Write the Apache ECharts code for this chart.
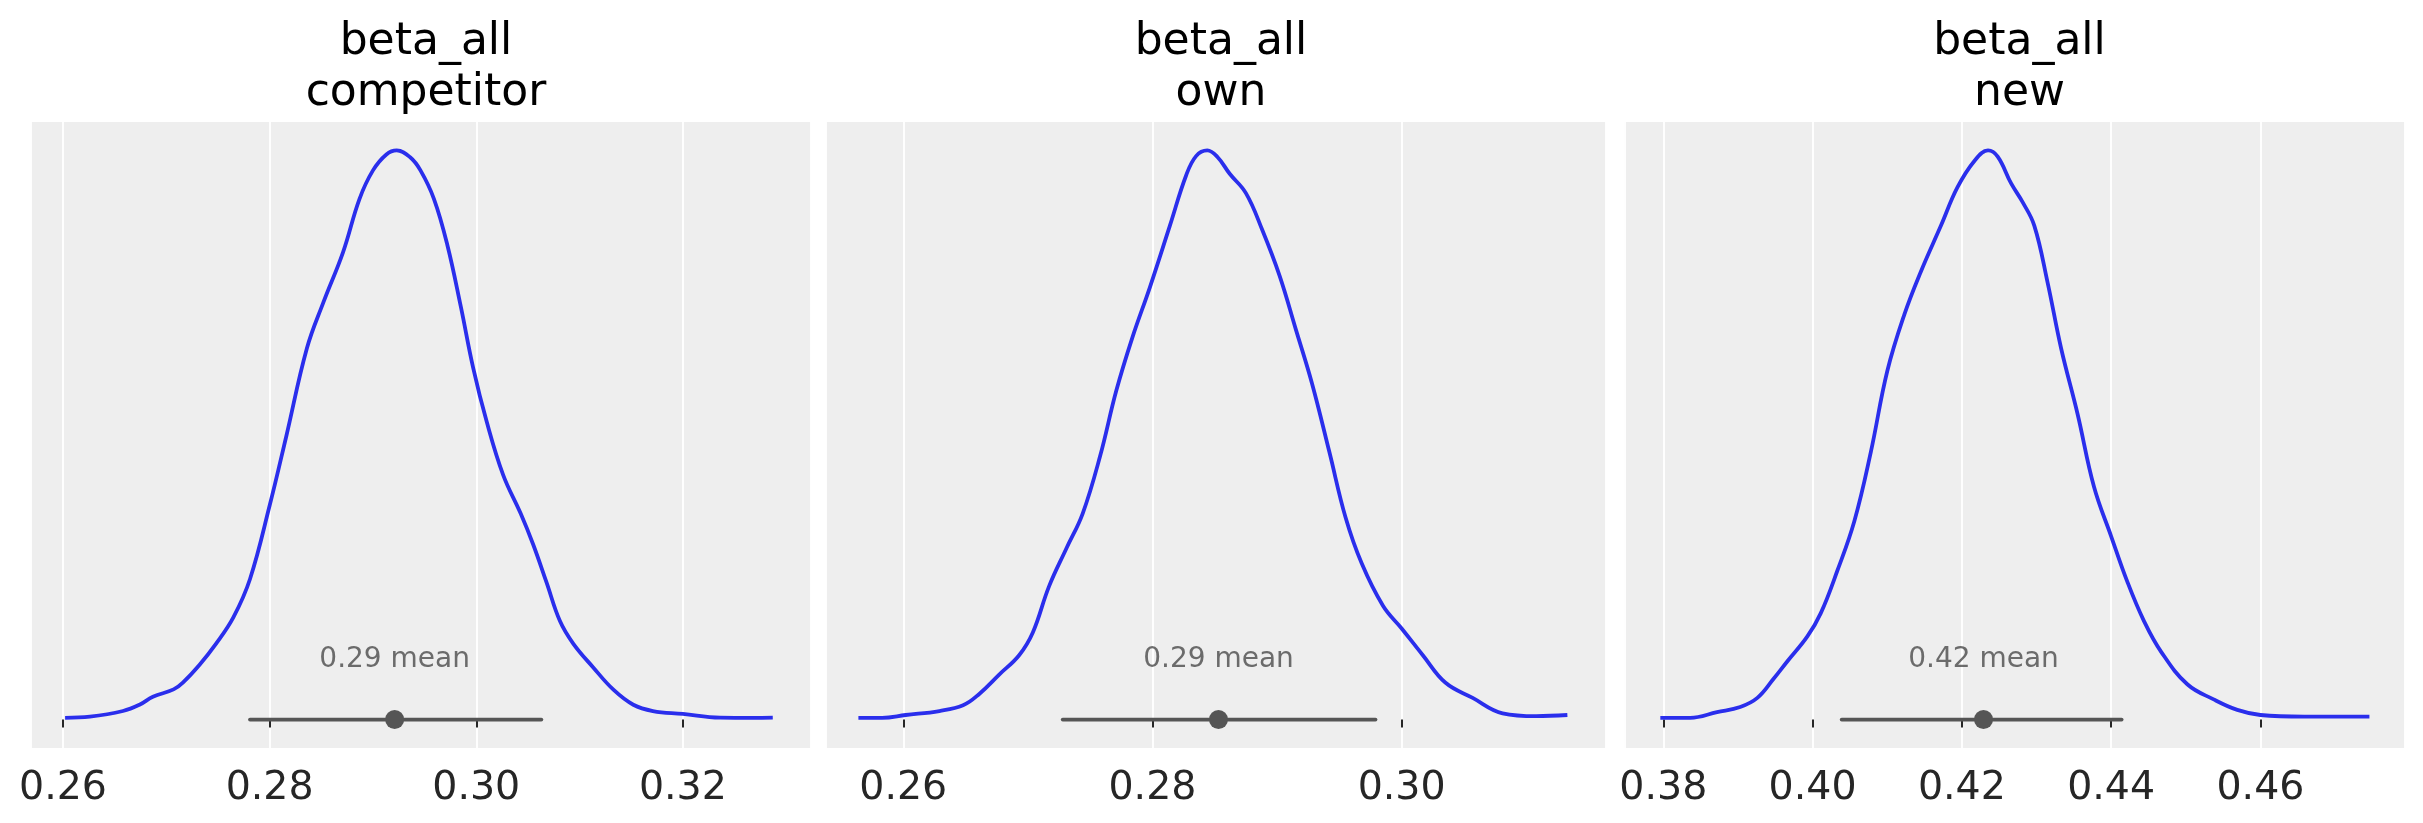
<!DOCTYPE html>
<html>
<head>
<meta charset="utf-8">
<script src="https://cdn.jsdelivr.net/npm/echarts@6/dist/echarts.min.js"></script>
<style>
  html, body { margin: 0; padding: 0; background: #fff; }
  #chart { width: 2423px; height: 823px; }
</style>
</head>
<body>
<div id="chart"></div>
<script>
// posterior densities (peak scaled to 1)
var competitorX = [0.2602, 0.2626, 0.2658, 0.2674, 0.2687, 0.2707, 0.2716, 0.2732, 0.2748, 0.2765, 0.2781, 0.2800, 0.2816, 0.2836, 0.2852, 0.2871, 0.2887, 0.2900, 0.2913, 0.2923, 0.2936, 0.2946, 0.2959, 0.2972, 0.2985, 0.2997, 0.3010, 0.3026, 0.3043, 0.3055, 0.3068, 0.3081, 0.3094, 0.3113, 0.3133, 0.3152, 0.3171, 0.3200, 0.3236, 0.3268, 0.3287];
var competitorY = [0.003, 0.005, 0.015, 0.026, 0.040, 0.053, 0.065, 0.096, 0.133, 0.180, 0.247, 0.376, 0.497, 0.652, 0.733, 0.821, 0.915, 0.965, 0.993, 1.000, 0.988, 0.965, 0.915, 0.834, 0.726, 0.618, 0.524, 0.430, 0.362, 0.308, 0.241, 0.173, 0.133, 0.092, 0.052, 0.026, 0.015, 0.010, 0.0034, 0.003, 0.0034];

var ownX = [0.2564, 0.2583, 0.2602, 0.2629, 0.2648, 0.2661, 0.2677, 0.2693, 0.2704, 0.2717, 0.2731, 0.2744, 0.2758, 0.2771, 0.2784, 0.2798, 0.2814, 0.2827, 0.2835, 0.2844, 0.2852, 0.2862, 0.2875, 0.2888, 0.2902, 0.2915, 0.2928, 0.2942, 0.2955, 0.2968, 0.2985, 0.3000, 0.3017, 0.3035, 0.3057, 0.3081, 0.3108, 0.3133];
var ownY = [0.003, 0.003, 0.008, 0.015, 0.025, 0.045, 0.079, 0.113, 0.153, 0.234, 0.301, 0.362, 0.463, 0.578, 0.672, 0.760, 0.868, 0.956, 0.990, 1.000, 0.989, 0.959, 0.925, 0.861, 0.780, 0.686, 0.591, 0.470, 0.355, 0.274, 0.200, 0.160, 0.113, 0.065, 0.038, 0.011, 0.006, 0.008];

var newX = [0.3796, 0.3836, 0.3872, 0.3903, 0.3926, 0.3948, 0.3966, 0.3993, 0.4011, 0.4033, 0.4056, 0.4078, 0.4100, 0.4123, 0.4145, 0.4172, 0.4194, 0.4217, 0.4235, 0.4248, 0.4266, 0.4281, 0.4297, 0.4315, 0.4333, 0.4355, 0.4377, 0.4400, 0.4422, 0.4444, 0.4467, 0.4502, 0.4538, 0.4569, 0.4600, 0.4659, 0.4746];
var newY = [0.003, 0.003, 0.013, 0.022, 0.038, 0.072, 0.102, 0.146, 0.187, 0.261, 0.349, 0.470, 0.612, 0.712, 0.787, 0.868, 0.935, 0.982, 1.000, 0.989, 0.942, 0.910, 0.868, 0.767, 0.652, 0.537, 0.409, 0.322, 0.241, 0.173, 0.119, 0.062, 0.035, 0.017, 0.008, 0.005, 0.005];

var titles = ['beta_all\ncompetitor', 'beta_all\nown', 'beta_all\nnew'];
var means = [0.2921, 0.2853, 0.4229];
var meanLabels = ['0.29 mean', '0.29 mean', '0.42 mean'];
var hdiLow = [0.2781, 0.2728, 0.4039];
var hdiHigh = [0.3063, 0.2979, 0.4414];
var xMin = [0.2569, 0.2538, 0.3748];
var xMax = [0.3324, 0.3164, 0.4793];

var kdeX = [competitorX, ownX, newX];
var kdeY = [competitorY, ownY, newY];

var chart = echarts.init(document.getElementById('chart'));

var gridLeft = [31, 826, 1624.5];
var gridW = 780;
var font = 'DejaVu Sans';

var grids = [], xAxes = [], yAxes = [], series = [], titleList = [];

for (var i = 0; i < 3; i++) {
    grids.push({ left: gridLeft[i], top: 122, width: gridW, height: 626,
                 show: true, backgroundColor: '#eeeeee', borderWidth: 0 });

    titleList.push({
        text: titles[i],
        left: gridLeft[i] + gridW / 2,
        top: 12,
        textAlign: 'center',
        textStyle: { fontFamily: font, fontSize: 44, lineHeight: 51,
                     fontWeight: 'normal', color: '#000' }
    });

    xAxes.push({
        type: 'value', gridIndex: i,
        min: xMin[i], max: xMax[i],
        minInterval: 0.02, maxInterval: 0.02,
        axisLine: { show: false },
        axisTick: { show: true, length: 8, lineStyle: { color: '#262626', width: 2 } },
        axisLabel: { fontFamily: font, fontSize: 39.5, color: '#262626', margin: 21,
                     showMinLabel: false, showMaxLabel: false,
                     formatter: function (v) { return v.toFixed(2); } },
        splitLine: { show: true, lineStyle: { color: '#ffffff', width: 1.8 } }
    });

    yAxes.push({ type: 'value', gridIndex: i, min: -0.05, max: 1.05, show: false,
                 splitLine: { show: false } });

    var pts = kdeX[i].map(function (x, k) { return [x, kdeY[i][k]]; });

    series.push({
        type: 'line', xAxisIndex: i, yAxisIndex: i, data: pts,
        showSymbol: false, smooth: 0.4,
        lineStyle: { color: '#2a2eec', width: 3.8 }, z: 3
    });
    series.push({
        type: 'line', xAxisIndex: i, yAxisIndex: i,
        data: [[hdiLow[i], 0], [hdiHigh[i], 0]],
        showSymbol: false, lineStyle: { color: '#555555', width: 3.8, cap: 'round' }, z: 4
    });
    series.push({
        type: 'scatter', xAxisIndex: i, yAxisIndex: i,
        data: [[means[i], 0]], symbolSize: 19,
        itemStyle: { color: '#555555', opacity: 1 }, z: 5
    });
    series.push({
        type: 'scatter', xAxisIndex: i, yAxisIndex: i,
        data: [[means[i], 0.105]], symbolSize: 0,
        label: { show: true, position: 'inside', formatter: meanLabels[i],
                 fontFamily: font, fontSize: 28, color: '#4a4a4a' }, z: 5
    });
}

chart.setOption({
    animation: false,
    backgroundColor: '#ffffff',
    title: titleList,
    grid: grids,
    xAxis: xAxes,
    yAxis: yAxes,
    series: series
});
</script>
</body>
</html>
